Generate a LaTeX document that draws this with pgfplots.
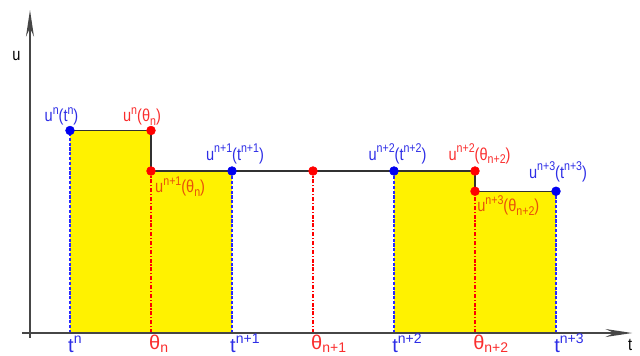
\documentclass[border=0pt]{standalone}
\usepackage{fontspec}
\setmainfont{Liberation Sans}
\newfontfamily\cond{Liberation Sans}[FakeStretch=0.84]
\usepackage{pgfplots}
\pgfplotsset{compat=1.18}
\usetikzlibrary{arrows.meta}
\definecolor{lblue}{RGB}{45,45,230}
\definecolor{lred}{RGB}{250,45,45}
\definecolor{lorange}{RGB}{232,80,10}
\definecolor{pblue}{RGB}{0,0,240}
\definecolor{dblue}{RGB}{40,40,255}
\definecolor{pred}{RGB}{255,0,0}
\definecolor{axgray}{RGB}{70,70,70}
\newcommand{\sps}[1]{\raisebox{0.42em}{\fontsize{9.5}{10}\selectfont #1}}
\newcommand{\sbs}[1]{\raisebox{-0.22em}{\fontsize{9.5}{10}\selectfont #1}}
\newcommand{\lab}[1]{{\cond\fontsize{13}{15}\selectfont #1}}
\newcommand{\bsps}[1]{\raisebox{0.45em}{\fontsize{10.5}{12}\selectfont #1}}
\newcommand{\bsbs}[1]{\raisebox{-0.15em}{\fontsize{10.5}{12}\selectfont #1}}
\newcommand{\blab}[1]{{\fontsize{15}{18}\selectfont #1}}
\begin{document}
\begin{tikzpicture}
\begin{axis}[scale only axis, width=480pt, height=266.25pt,
  xmin=0.1358, xmax=8.037, ymin=-0.5432, ymax=8.2222,
  hide axis, clip=false]
% yellow areas
\addplot[fill=yellow, draw=none] coordinates {(1,0)(1,5)(2,5)(2,4)(3,4)(3,0)} -- cycle;
\addplot[fill=yellow, draw=none] coordinates {(5,0)(5,4)(6,4)(6,3.5)(7,3.5)(7,0)} -- cycle;
% dashed verticals
\addplot[ycomb, draw=dblue, dash pattern=on 2.4pt off 1.2pt, line width=0.95pt, mark=none] coordinates {(1,5)(3,4)(5,4)(7,3.5)};
\addplot[ycomb, draw=pred, dash pattern=on 3pt off 1.3pt on 1pt off 1.3pt, line width=0.85pt, mark=none] coordinates {(2,4)(4,4)(6,3.5)};
% step line
\addplot[axgray!70!black, line width=1.1pt, mark=none] coordinates {(1,5)(2,5)(2,4)(6,4)(6,3.5)(7,3.5)};
% axes
\draw[axgray, line width=1.1pt, -{Stealth[length=20pt,width=6pt]}] (axis cs:0.407,0) -- (axis cs:7.94,0);
\draw[axgray, line width=1.1pt, -{Stealth[length=20pt,width=6pt]}] (axis cs:0.506,-0.123) -- (axis cs:0.506,7.975);
% points
\addplot[only marks, mark=*, mark size=3.3pt, pblue] coordinates {(1,5)(3,4)(5,4)(7,3.5)};
\addplot[only marks, mark=*, mark size=3.3pt, pred] coordinates {(2,5)(2,4)(4,4)(6,4)(6,3.5)};
% point labels
\node[lblue, anchor=base, inner sep=0pt] at (axis cs:0.895,5.21) {\lab{u\sps{n}(t\sps{n})}};
\node[lred, anchor=base, inner sep=0pt] at (axis cs:1.889,5.21) {\lab{u\sps{n}(θ\sbs{n})}};
\node[lblue, anchor=base, inner sep=0pt] at (axis cs:3.037,4.27) {\lab{u\sps{n+1}(t\sps{n+1})}};
\node[lblue, anchor=base, inner sep=0pt] at (axis cs:5.043,4.27) {\lab{u\sps{n+2}(t\sps{n+2})}};
\node[lred, anchor=base, inner sep=0pt] at (axis cs:6.056,4.27) {\lab{u\sps{n+2}(θ\sbs{n+2})}};
\node[lblue, anchor=base, inner sep=0pt] at (axis cs:7.025,3.827) {\lab{u\sps{n+3}(t\sps{n+3})}};
\node[lorange, anchor=base west, inner sep=0pt] at (axis cs:2.049,3.457) {\lab{u\sps{n+1}(θ\sbs{n})}};
\node[lorange, anchor=base west, inner sep=0pt] at (axis cs:6.025,2.988) {\lab{u\sps{n+3}(θ\sbs{n+2})}};
% tick labels
\node[lblue, anchor=base west, inner sep=0pt] at (axis cs:0.975,-0.47) {\blab{t\bsps{n}}};
\node[lred, anchor=base west, inner sep=0pt] at (axis cs:1.975,-0.40) {\blab{θ\bsbs{n}}};
\node[lblue, anchor=base west, inner sep=0pt] at (axis cs:2.975,-0.47) {\blab{t\bsps{n+1}}};
\node[lred, anchor=base west, inner sep=0pt] at (axis cs:3.975,-0.40) {\blab{θ\bsbs{n+1}}};
\node[lblue, anchor=base west, inner sep=0pt] at (axis cs:4.975,-0.47) {\blab{t\bsps{n+2}}};
\node[lred, anchor=base west, inner sep=0pt] at (axis cs:5.975,-0.40) {\blab{θ\bsbs{n+2}}};
\node[lblue, anchor=base west, inner sep=0pt] at (axis cs:6.975,-0.47) {\blab{t\bsps{n+3}}};
% axis names
\node[black, anchor=base, inner sep=0pt] at (axis cs:7.914,-0.42) {\lab{t}};
\node[black, anchor=base, inner sep=0pt] at (axis cs:0.34,6.716) {\lab{u}};
\end{axis}
\pgfresetboundingbox
\useasboundingbox (current axis.south west) rectangle (current axis.north east);
\end{tikzpicture}
\end{document}
